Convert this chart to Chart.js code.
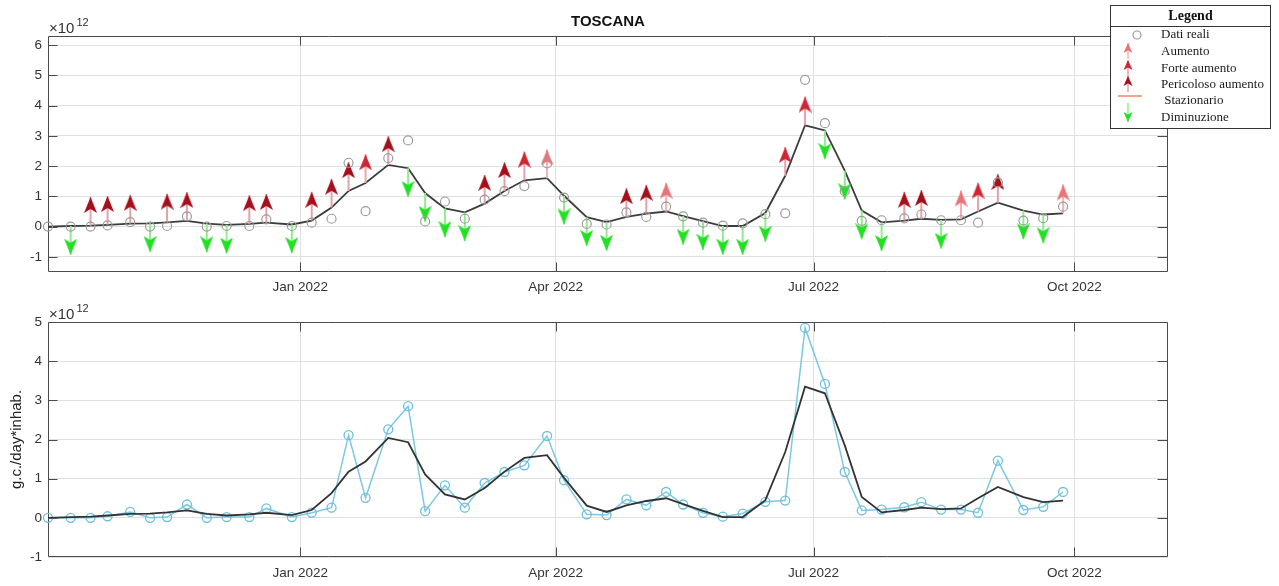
<!DOCTYPE html>
<html><head><meta charset="utf-8">
<script src="https://cdn.jsdelivr.net/npm/chart.js@4.4.0/dist/chart.umd.min.js"></script>
<style>
html,body{margin:0;padding:0;background:#fff;}
body{width:1279px;height:586px;position:relative;overflow:hidden;}
canvas{position:absolute;left:0;}
#top{top:0;}
#bot{top:300px;}
</style></head>
<body>
<canvas id="top" width="1279" height="300"></canvas>
<canvas id="bot" width="1279" height="286"></canvas>
<script>
// ---- data (values in units of 10^12 g.c./day*inhab.) ----
const sampleDates = [
 '2021-10-04','2021-10-12','2021-10-19','2021-10-25','2021-11-02','2021-11-09','2021-11-15','2021-11-22',
 '2021-11-29','2021-12-06','2021-12-14','2021-12-20','2021-12-29','2022-01-05','2022-01-12','2022-01-18',
 '2022-01-24','2022-02-01','2022-02-08','2022-02-14','2022-02-21','2022-02-28','2022-03-07','2022-03-14',
 '2022-03-21','2022-03-29','2022-04-04','2022-04-12','2022-04-19','2022-04-26','2022-05-03','2022-05-10',
 '2022-05-16','2022-05-23','2022-05-30','2022-06-06','2022-06-14','2022-06-21','2022-06-28','2022-07-05',
 '2022-07-12','2022-07-18','2022-07-25','2022-08-02','2022-08-08','2022-08-15','2022-08-22','2022-08-28',
 '2022-09-04','2022-09-13','2022-09-20','2022-09-27'
];
const realValues = [
 0.00,0.00,0.00,0.04,0.15,0.00,0.02,0.34,
 0.00,0.02,0.02,0.24,0.02,0.13,0.26,2.11,
 0.51,2.26,2.85,0.17,0.83,0.26,0.89,1.17,
 1.34,2.09,0.96,0.09,0.07,0.47,0.32,0.66,
 0.34,0.13,0.03,0.11,0.41,0.44,4.85,3.42,
 1.17,0.19,0.21,0.27,0.40,0.21,0.21,0.13,
 1.46,0.20,0.28,0.66
];
const trendValues = [
 0.00,0.02,0.03,0.06,0.10,0.11,0.14,0.19,
 0.10,0.06,0.09,0.13,0.07,0.20,0.63,1.18,
 1.44,2.04,1.93,1.11,0.60,0.47,0.76,1.18,
 1.53,1.60,1.02,0.31,0.15,0.32,0.43,0.50,
 0.35,0.18,0.02,0.02,0.45,1.68,3.35,3.18,
 1.85,0.53,0.14,0.20,0.26,0.22,0.24,0.50,
 0.79,0.53,0.40,0.44
];
// A = Aumento, F = Forte aumento, P = Pericoloso aumento, S = Stazionario, D = Diminuzione
const trendClass = [
 '', 'D','P','P','P','D','P','P',
 'D','D','P','P','D','P','P','P',
 'F','P','D','D','D','D','P','P',
 'F','A','D','D','D','P','P','A',
 'D','D','D','D','D','F','F','D',
 'D','D','D','P','P','D','A','F',
 'P','D','D','A'
];
const classNames = {A:'Aumento', F:'Forte aumento', P:'Pericoloso aumento', S:' Stazionario', D:'Diminuzione'};
const xTickDates = ['2022-01-01','2022-04-01','2022-07-01','2022-10-01'];
const xTickLabels = ['Jan 2022','Apr 2022','Jul 2022','Oct 2022'];
const xRange = ['2021-10-04','2022-11-03'];
const topYTicks = [-1,0,1,2,3,4,5,6];
const topYRange = [-1.5, 6.3];
const botYTicks = [-1,0,1,2,3,4,5];
const botYRange = [-1, 5];
const exponent = '12';
const chartTitle = 'TOSCANA';
const yAxisTitle = 'g.c./day*inhab.';
const legendTitle = 'Legend';
const realLabel = 'Dati reali';

// ---- helpers ----
const DAY0 = Date.UTC(2022,0,1);
function dayNum(s){ const [y,m,d] = s.split('-').map(Number); return (Date.UTC(y,m-1,d)-DAY0)/86400000; }
const xs = sampleDates.map(dayNum);
const SANS = "'Liberation Sans', Arial, Helvetica, sans-serif";
const SERIF = "'Liberation Serif', 'Times New Roman', serif";
const TICK_COLOR = '#333333';
const GRID_COLOR = '#e0e0e0';
const ARROW_LEN = 0.95;

const arrowStyle = {
  A:{head:'#e8747a', shaft:'#f2b2b5', dir: 1},
  F:{head:'#cf2636', shaft:'#eba2a8', dir: 1},
  P:{head:'#a50f1c', shaft:'#e3a3a8', dir: 1},
  S:{head:'#f4845f', shaft:'#f4845f', dir: 0},
  D:{head:'#22e022', shaft:'#92ea92', dir:-1}
};

function makeHead(color, w, h, notch){
  const c = document.createElement('canvas'); c.width = w; c.height = 2*h;
  const g = c.getContext('2d'); g.fillStyle = color; g.beginPath();
  g.moveTo(w/2, h); g.lineTo(w, 2*h); g.lineTo(w/2, 2*h-notch); g.lineTo(0, 2*h); g.closePath(); g.fill();
  return c;
}

function arrowDataset(key){
  const st = arrowStyle[key];
  const head = makeHead(st.head, 13, 16, 4);
  const data = [];
  trendClass.forEach((c,i)=>{
    if (c !== key) return;
    const b = trendValues[i];
    data.push({x:xs[i], y:b}, {x:xs[i], y:b + st.dir*ARROW_LEN}, {x:xs[i], y:null});
  });
  return {
    label: classNames[key], data, borderColor: st.shaft, borderWidth: 2, fill:false, tension:0, spanGaps:false,
    pointStyle: ctx => (ctx.dataIndex % 3 === 1 ? head : 'circle'),
    pointRadius: ctx => (ctx.dataIndex % 3 === 1 ? 6 : 0),
    pointRotation: st.dir < 0 ? 180 : 0,
    order: 1, clip: false
  };
}

function xScale(pad, h){
  return {
    type:'linear', min: dayNum(xRange[0]), max: dayNum(xRange[1]),
    afterBuildTicks: s => { s.ticks = xTickDates.map(d => ({value: dayNum(d)})); },
    afterFit: s => { s.height = h; },
    ticks:{ autoSkip:false, maxRotation:0, padding: pad, color: TICK_COLOR,
      font:{family:SANS, size:13.5}, callback:(v,i) => xTickLabels[i] },
    grid:{ color: GRID_COLOR, lineWidth:1, drawTicks:false },
    border:{ display:false }
  };
}
function yScale(range, ticks, title){
  const o = {
    type:'linear', min: range[0], max: range[1],
    afterBuildTicks: s => { s.ticks = ticks.map(v => ({value:v})); },
    afterFit: s => { s.width = 48; },
    ticks:{ padding:6, color: TICK_COLOR, font:{family:SANS, size:13.5}, callback: v => String(v) },
    grid:{ color: GRID_COLOR, lineWidth:1, drawTicks:false },
    border:{ display:false }
  };
  if (title) o.title = { display:true, text:title, color:'#222', font:{family:SANS, size:15}, padding:{top:8, bottom:0} };
  return o;
}

const boxPlugin = {
  id:'matlabBox',
  beforeDatasetsDraw(chart){
    const {ctx, chartArea:a} = chart; const x = chart.scales.x, y = chart.scales.y;
    ctx.save();
    ctx.strokeStyle = '#4a4a4a'; ctx.lineWidth = 1;
    const L = Math.round(a.left)+0.5, R = Math.round(a.right)-0.5, T = Math.round(a.top)+0.5, B = Math.round(a.bottom)-0.5;
    ctx.beginPath();
    ctx.rect(L, T, R-L, B-T);
    x.ticks.forEach(t => { const p = Math.round(x.getPixelForValue(t.value))+0.5;
      ctx.moveTo(p, B); ctx.lineTo(p, B-9); ctx.moveTo(p, T); ctx.lineTo(p, T+9); });
    y.ticks.forEach(t => { const p = Math.round(y.getPixelForValue(t.value))+0.5;
      if (p <= T+1 || p >= B-1) return;
      ctx.moveTo(L, p); ctx.lineTo(L+9, p); ctx.moveTo(R, p); ctx.lineTo(R-10, p); });
    ctx.stroke();
    // exponent label
    ctx.fillStyle = '#333'; ctx.textBaseline = 'alphabetic'; ctx.textAlign = 'left';
    ctx.font = "15px " + SANS;
    const bx = a.left + 1, by = a.top - 3.5;
    ctx.fillText('\u00d710', bx, by);
    const w = ctx.measureText('\u00d710').width;
    ctx.font = "11px " + SANS;
    ctx.fillText(exponent, bx + w + 2, by - 7);
    ctx.restore();
  }
};

function drawLegendArrow(ctx, x, tipY, tailY, st){
  ctx.strokeStyle = st.shaft; ctx.lineWidth = 1.5;
  ctx.beginPath(); ctx.moveTo(x, tailY); ctx.lineTo(x, tipY); ctx.stroke();
  const dir = tailY > tipY ? 1 : -1, w = 9, h = 10, n = 2.5;
  ctx.fillStyle = st.head; ctx.beginPath();
  ctx.moveTo(x, tipY); ctx.lineTo(x + w/2, tipY + dir*h); ctx.lineTo(x, tipY + dir*(h-n)); ctx.lineTo(x - w/2, tipY + dir*h);
  ctx.closePath(); ctx.fill();
}

const legendPlugin = {
  id:'boxLegend',
  afterDraw(chart){
    const ctx = chart.ctx;
    const bx = 1110.5, by = 5.5, bw = 160, bh = 123;
    ctx.save();
    ctx.fillStyle = '#fff'; ctx.fillRect(bx, by, bw, bh);
    ctx.strokeStyle = '#333'; ctx.lineWidth = 1; ctx.strokeRect(bx, by, bw, bh);
    ctx.beginPath(); ctx.moveTo(bx, 26.5); ctx.lineTo(bx+bw, 26.5); ctx.stroke();
    ctx.fillStyle = '#111'; ctx.textAlign = 'center'; ctx.textBaseline = 'middle';
    ctx.font = "bold 14px " + SERIF; ctx.fillText(legendTitle, bx + bw/2, 16);
    ctx.textAlign = 'left'; ctx.font = "13px " + SERIF; ctx.fillStyle = '#1a1a1a';
    const tx = 1161;
    const rows = [35, 52, 69, 85, 101, 118];
    // Dati reali
    ctx.strokeStyle = '#9a9a9a'; ctx.lineWidth = 1.2;
    ctx.beginPath(); ctx.arc(1137, rows[0], 4, 0, Math.PI*2); ctx.stroke();
    ctx.fillText(realLabel, tx, rows[0]);
    // increases
    ['A','F','P'].forEach((k,i) => {
      drawLegendArrow(ctx, 1128, rows[i+1]-9, rows[i+1]+7, arrowStyle[k]);
      ctx.fillStyle = '#1a1a1a'; ctx.fillText(classNames[k], tx, rows[i+1]);
    });
    // stazionario
    ctx.strokeStyle = arrowStyle.S.shaft; ctx.lineWidth = 1.5;
    ctx.beginPath(); ctx.moveTo(1118, rows[4]-5); ctx.lineTo(1142, rows[4]-5); ctx.stroke();
    ctx.fillStyle = '#1a1a1a'; ctx.fillText(classNames.S, tx, rows[4]);
    // diminuzione
    drawLegendArrow(ctx, 1128, rows[5]+4, rows[5]-15, arrowStyle.D);
    ctx.fillStyle = '#1a1a1a'; ctx.fillText(classNames.D, tx, rows[5]);
    ctx.restore();
  }
};

const realPts = xs.map((x,i) => ({x, y: realValues[i]}));
const trendPts = xs.map((x,i) => ({x, y: trendValues[i]}));

// ---- top chart ----
new Chart(document.getElementById('top'), {
  type:'line',
  data:{ datasets:[
    { label: realLabel, data: realPts, showLine:false, pointStyle:'circle', pointRadius:4.5,
      pointBorderColor:'#9c9c9c', pointBackgroundColor:'rgba(0,0,0,0)', pointBorderWidth:1.2, order:0, clip:false },
    ...['A','F','P','D'].map(arrowDataset),
    { label:'trend', data: trendPts, borderColor:'#3c3c3c', borderWidth:1.8, pointRadius:0, tension:0, fill:false, order:2 }
  ]},
  options:{
    responsive:false, animation:false, events:[],
    layout:{ padding:{left:0, right:111, top:0, bottom:0} },
    plugins:{
      legend:{display:false}, tooltip:{enabled:false},
      title:{ display:true, text: chartTitle, fullSize:false, color:'#111',
        font:{family:SANS, size:15, weight:'bold'}, padding:{top:13, bottom:5} }
    },
    scales:{ x: xScale(7, 28), y: yScale(topYRange, topYTicks) }
  },
  plugins:[boxPlugin, legendPlugin]
});

// ---- bottom chart ----
new Chart(document.getElementById('bot'), {
  type:'line',
  data:{ datasets:[
    { label:'trend', data: trendPts, borderColor:'#333333', borderWidth:1.8, pointRadius:0, tension:0, fill:false, order:0 },
    { label: realLabel, data: realPts, borderColor:'#7cc8e2', borderWidth:1.5, tension:0, fill:false,
      pointStyle:'circle', pointRadius:4.5, pointBorderColor:'#6cbfdd', pointBackgroundColor:'rgba(0,0,0,0)',
      pointBorderWidth:1.3, order:1, clip:false }
  ]},
  options:{
    responsive:false, animation:false, events:[],
    layout:{ padding:{left:0, right:111, top:22, bottom:0} },
    plugins:{ legend:{display:false}, tooltip:{enabled:false}, title:{display:false} },
    scales:{ x: xScale(8, 29), y: yScale(botYRange, botYTicks, yAxisTitle) }
  },
  plugins:[boxPlugin]
});
</script>
</body></html>
